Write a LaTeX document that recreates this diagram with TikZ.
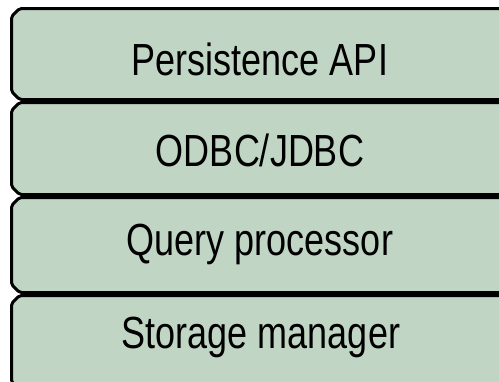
\documentclass[tikz,border=0pt]{standalone}
\usepackage{fontspec}
\setmainfont{Liberation Sans}[FakeStretch=0.8]
\definecolor{layerfill}{RGB}{193,213,197}
\begin{document}
\begin{tikzpicture}[x=1pt,y=-1pt,
  layer/.style={draw=black, line width=3pt, fill=layerfill, rounded corners=2pt},
  lbl/.style={font=\fontsize{45}{45}\selectfont, anchor=base, inner sep=0pt}]
\useasboundingbox (0,0) rectangle (499,381);
\clip (0,0) rectangle (499,381);
\foreach \t/\b in {8.5/99.5, 102.5/194.5, 197.5/292.5, 295.5/390}{
  \draw[layer] (11.5,\t+8) -- (19.5,\t) -- (530,\t) -- (530,\b) -- (19.5,\b) -- (11.5,\b-8) -- cycle;
}
\node[lbl] (api) at (260,75) {Persistence API};
\node[lbl] (odbc) at (260,166) {ODBC/JDBC};
\node[lbl] (query) at (260,255) {Query processor};
\node[lbl] (storage) at (261,348) {Storage manager};
\end{tikzpicture}
\end{document}
